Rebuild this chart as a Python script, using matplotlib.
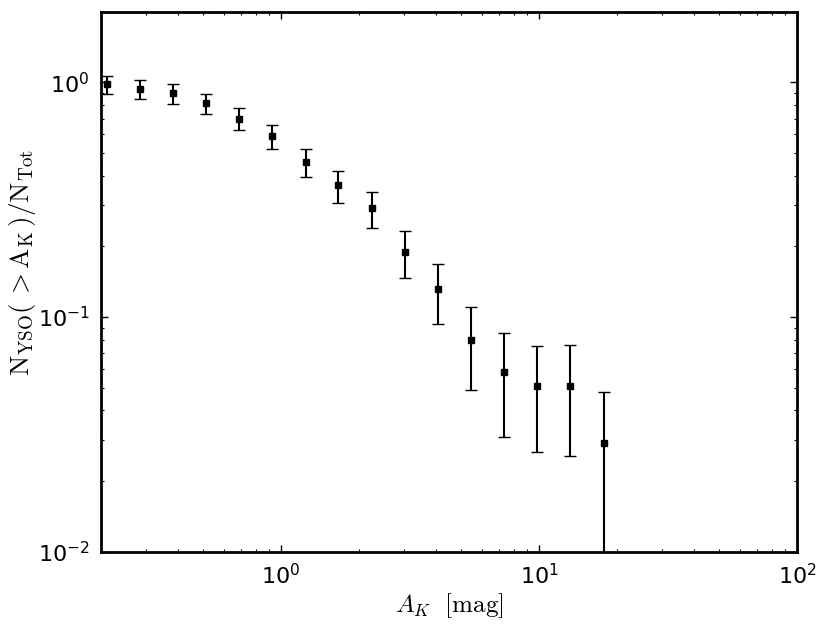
import numpy as np
import matplotlib
matplotlib.use("Agg")
import matplotlib.pyplot as plt

plt.rcParams['mathtext.fontset'] = 'cm'

ak = [0.211, 0.284, 0.381, 0.513, 0.689, 0.926, 1.245, 1.67, 2.25, 3.02,
      4.06, 5.45, 7.33, 9.85, 13.2, 17.8]
frac = [0.980, 0.934, 0.898, 0.819, 0.700, 0.590, 0.459, 0.364, 0.291, 0.189,
        0.131, 0.0798, 0.0581, 0.0508, 0.0508, 0.0290]
frac_hi = [1.064, 1.020, 0.980, 0.894, 0.775, 0.660, 0.520, 0.420, 0.342, 0.232,
           0.168, 0.1106, 0.0852, 0.0750, 0.0760, 0.0481]
frac_lo = [0.889, 0.846, 0.811, 0.733, 0.624, 0.520, 0.395, 0.307, 0.239, 0.146,
           0.0936, 0.0490, 0.0308, 0.0267, 0.0256, 0.001]

frac = np.array(frac)
yerr = np.array([frac - np.array(frac_lo), np.array(frac_hi) - frac])

fig = plt.figure(figsize=(8.31, 6.29), dpi=100)
ax = fig.add_axes([0.1212, 0.1229, 0.8378, 0.8585])
ax.set_xscale('log')
ax.set_yscale('log')
ax.errorbar(ak, frac, yerr=yerr, fmt='s', color='black', ms=4, mec='black',
            elinewidth=1.5, capsize=4.5, capthick=1.0, ecolor='black')
ax.set_xlim(0.2, 100)
ax.set_ylim(0.01, 2)

for s in ax.spines.values():
    s.set_linewidth(2.0)
ax.tick_params(which='both', direction='in', top=True, right=True)
ax.tick_params(which='major', length=5, width=1, labelsize=16, pad=8)
ax.tick_params(which='minor', length=2.5, width=0.8)

ax.set_xlabel(r'$A_K\ \ \mathrm{[mag]}$', fontsize=18, labelpad=2)
ax.set_ylabel(r'$\mathrm{N_{YSO}(\,>A_K\,)/N_{Tot}}$', fontsize=19.5, labelpad=6)
ax.yaxis.set_label_coords(-0.090, 0.535)

fig.savefig('out.png', dpi=100)
